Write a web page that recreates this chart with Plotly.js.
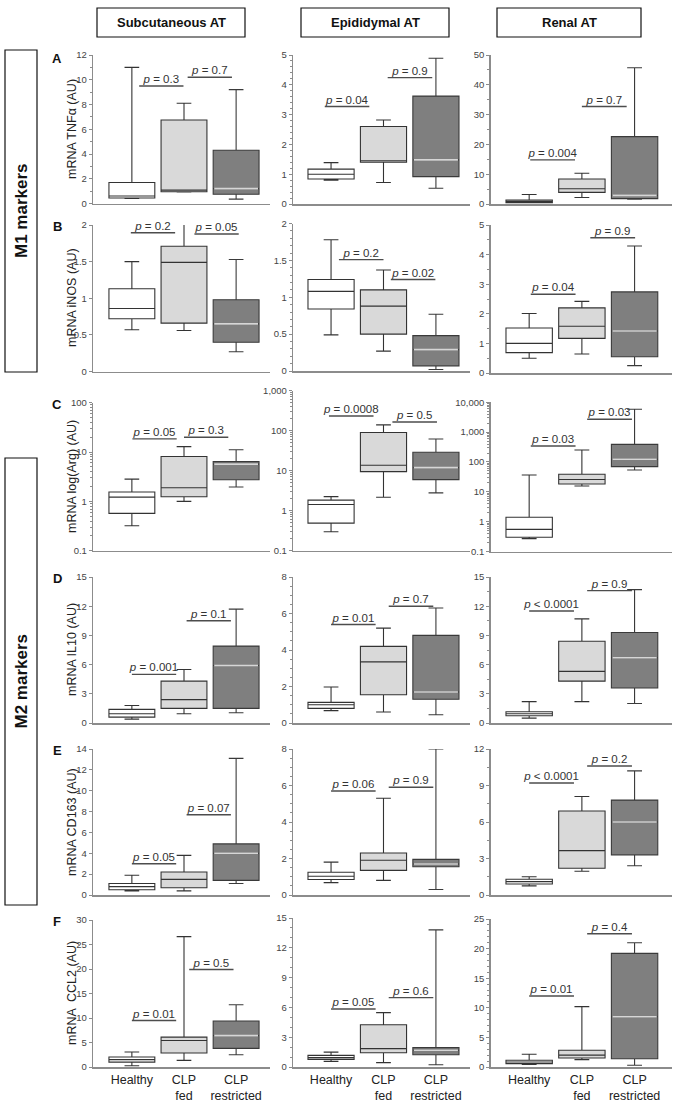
<!DOCTYPE html>
<html><head><meta charset="utf-8">
<script src="https://cdn.plot.ly/plotly-3.0.1.min.js"></script>
<style>html,body{margin:0;padding:0;background:#fff}#chart{width:685px;height:1111px}</style>
</head><body><div id="chart"></div>
<script>
const W = 685, H = 1111;
const groups = ['Healthy', 'CLP<br>fed', 'CLP<br>restricted'];
const tissues = ['Subcutaneous AT', 'Epididymal AT', 'Renal AT'];
const markerSets = ['M1 markers', 'M2 markers'];
const panelLetters = ['A', 'B', 'C', 'D', 'E', 'F'];
const yTitles = ['mRNA TNFα (AU)', 'mRNA iNOS (AU)', 'mRNA log(Arg) (AU)', 'mRNA IL10 (AU)', 'mRNA CD163 (AU)', 'mRNA  CCL2 (AU)'];
const logTickVals = [0.1, 1, 10, 100, 1000, 10000];
const logTickText = ['0.1', '1', '10', '100', '1,000', '10,000'];

// five-number summaries [min, q1, median, q3, max] for Healthy, CLP fed, CLP restricted
const tnfSub = [[0.4, 0.45, 0.6, 1.7, 11.0], [0.94, 0.95, 1.08, 6.75, 8.1], [0.35, 0.75, 1.2, 4.3, 9.2]];
const tnfEpi = [[0.8, 0.84, 1.0, 1.17, 1.39], [0.72, 1.4, 1.45, 2.6, 2.82], [0.53, 0.92, 1.48, 3.62, 4.89]];
const tnfRen = [[0.4, 0.45, 0.7, 1.3, 3.2], [2.2, 3.9, 5.1, 8.4, 10.3], [1.6, 1.8, 2.9, 22.6, 45.7]];
const inosSub = [[0.57, 0.72, 0.86, 1.13, 1.5], [0.56, 0.66, 1.49, 1.71, 2.02], [0.27, 0.4, 0.65, 0.98, 1.53]];
const inosEpi = [[0.49, 0.84, 1.08, 1.24, 1.78], [0.27, 0.5, 0.88, 1.1, 1.37], [0.02, 0.07, 0.29, 0.48, 0.77]];
const inosRen = [[0.5, 0.69, 1.0, 1.52, 2.01], [0.64, 1.17, 1.58, 2.2, 2.42], [0.25, 0.55, 1.42, 2.74, 4.29]];
const argSub = [[0.32, 0.57, 1.22, 1.55, 2.83], [1.0, 1.24, 1.89, 8.1, 12.9], [1.95, 2.74, 5.7, 6.4, 11.1]];
const argEpi = [[0.3, 0.49, 1.44, 1.85, 2.26], [2.17, 9.5, 13.7, 90, 140], [2.8, 6.0, 12, 29, 62]];
const argRen = [[0.27, 0.3, 0.55, 1.4, 36.7], [15.7, 18.3, 26, 38.6, 252], [54, 70, 123, 390, 5820]];
const il10Sub = [[0.4, 0.6, 0.95, 1.4, 1.8], [0.95, 1.5, 2.4, 4.3, 5.5], [1.05, 1.5, 5.9, 7.9, 11.7]];
const il10Epi = [[0.68, 0.8, 1.0, 1.13, 1.97], [0.6, 1.55, 3.35, 4.2, 5.2], [0.45, 1.3, 1.7, 4.8, 6.3]];
const il10Ren = [[0.5, 0.75, 0.95, 1.15, 2.2], [2.2, 4.3, 5.3, 8.4, 10.7], [2.0, 3.6, 6.7, 9.3, 13.7]];
const cd163Sub = [[0.4, 0.5, 0.8, 1.1, 1.9], [0.4, 0.7, 1.5, 2.2, 3.8], [1.1, 1.4, 4.0, 4.9, 13.1]];
const cd163Epi = [[0.68, 0.85, 1.03, 1.25, 1.8], [0.8, 1.35, 1.9, 2.3, 5.3], [0.3, 1.55, 1.7, 1.95, 8.0]];
const cd163Ren = [[0.75, 0.9, 1.1, 1.3, 1.5], [1.95, 2.2, 3.65, 6.9, 8.1], [2.4, 3.3, 6.0, 7.8, 10.2]];
const ccl2Sub = [[0.27, 1.0, 1.5, 2.03, 3.05], [1.36, 2.85, 5.4, 6.1, 26.6], [2.5, 3.8, 6.4, 9.4, 12.7]];
const ccl2Epi = [[0.57, 0.77, 0.94, 1.17, 1.5], [0.44, 1.44, 1.85, 4.26, 5.47], [0.23, 1.24, 1.68, 1.95, 13.8]];
const ccl2Ren = [[0.45, 0.57, 0.85, 1.13, 2.15], [1.24, 1.53, 2.0, 2.83, 10.2], [0.3, 1.4, 8.5, 19.2, 21.0]];

// p-values: [Healthy vs CLP fed, CLP fed vs CLP restricted]
const tnfSubP = ['= 0.3', '= 0.7'],   tnfEpiP = ['= 0.04', '= 0.9'],   tnfRenP = ['= 0.004', '= 0.7'];
const inosSubP = ['= 0.2', '= 0.05'], inosEpiP = ['= 0.2', '= 0.02'],  inosRenP = ['= 0.04', '= 0.9'];
const argSubP = ['= 0.05', '= 0.3'],  argEpiP = ['= 0.0008', '= 0.5'], argRenP = ['= 0.03', '= 0.03'];
const il10SubP = ['= 0.001', '= 0.1'], il10EpiP = ['= 0.01', '= 0.7'], il10RenP = ['< 0.0001', '= 0.9'];
const cd163SubP = ['= 0.05', '= 0.07'], cd163EpiP = ['= 0.06', '= 0.9'], cd163RenP = ['< 0.0001', '= 0.2'];
const ccl2SubP = ['= 0.01', '= 0.5'], ccl2EpiP = ['= 0.05', '= 0.6'], ccl2RenP = ['= 0.01', '= 0.4'];

const panels = [
  {s: tnfSub, p: tnfSubP}, {s: tnfEpi, p: tnfEpiP}, {s: tnfRen, p: tnfRenP},
  {s: inosSub, p: inosSubP}, {s: inosEpi, p: inosEpiP}, {s: inosRen, p: inosRenP},
  {s: argSub, p: argSubP}, {s: argEpi, p: argEpiP}, {s: argRen, p: argRenP},
  {s: il10Sub, p: il10SubP}, {s: il10Epi, p: il10EpiP}, {s: il10Ren, p: il10RenP},
  {s: cd163Sub, p: cd163SubP}, {s: cd163Epi, p: cd163EpiP}, {s: cd163Ren, p: cd163RenP},
  {s: ccl2Sub, p: ccl2SubP}, {s: ccl2Epi, p: ccl2EpiP}, {s: ccl2Ren, p: ccl2RenP}
];

// placement of the significance bars (bar height in data units, bar start on the category axis)
const barPlace = [
  {y: [9.5, 10.2], x: [0.14, 1.07]}, {y: [3.27, 4.24], x: [-0.12, 1.08]}, {y: [14.8, 32.7], x: [0.02, 1.0]},
  {y: [1.895, 1.877], x: [-0.02, 1.2]}, {y: [1.51, 1.24], x: [0.15, 1.14]}, {y: [2.66, 4.57], x: [0.03, 1.16]},
  {y: [18.5, 20], x: [0.01, 1.0]}, {y: [234, 165], x: [-0.04, 1.17]}, {y: [344, 2690], x: [0.03, 1.1]},
  {y: [5.0, 10.5], x: [0.0, 1.05]}, {y: [5.4, 6.4], x: [0.0, 1.1]}, {y: [11.5, 13.6], x: [0.0, 1.1]},
  {y: [3.0, 7.7], x: [0.0, 1.05]}, {y: [5.7, 5.9], x: [0.0, 1.1]}, {y: [9.2, 10.6], x: [0.0, 1.1]},
  {y: [9.5, 19.9], x: [0.0, 1.1]}, {y: [5.84, 6.98], x: [0.0, 1.1]}, {y: [12.0, 22.5], x: [0.0, 1.1]}
];

const colX = [[93.3, 270], [293.3, 470], [490.7, 672]];
const colXRange = [[-0.74, 2.65], [-0.72, 2.65], [-0.73, 2.71]];
const yCfg = [
  {dom: [55, 203.5], range: [0, 12], dtick: 2, minor: 1},
  {dom: [55, 204], range: [0, 5], dtick: 1, minor: 0.2},
  {dom: [55, 204], range: [0, 50], dtick: 10, minor: 5},
  {dom: [225, 371.5], range: [0, 2], dtick: 0.5},
  {dom: [223.5, 371], range: [0, 2], dtick: 0.5, minor: 0.1},
  {dom: [225, 373], range: [0, 5], dtick: 1, minor: 0.5},
  {dom: [402.7, 550.7], log: true, range: [-1, 2]},
  {dom: [390.7, 550.8], log: true, range: [-1, 3]},
  {dom: [402.3, 551.5], log: true, range: [-1, 4]},
  {dom: [577, 723], range: [0, 15], dtick: 3},
  {dom: [577, 723], range: [0, 8], dtick: 2, minor: 0.5},
  {dom: [577, 723], range: [0, 15], dtick: 3, minor: 1.5},
  {dom: [749, 895], range: [0, 14], dtick: 2},
  {dom: [749, 895], range: [0, 8], dtick: 2, minor: 0.5},
  {dom: [749, 895], range: [0, 12], dtick: 3, minor: 1.5},
  {dom: [920, 1067], range: [0, 30], dtick: 5},
  {dom: [918, 1067], range: [0, 15], dtick: 3, minor: 1},
  {dom: [919, 1067], range: [0, 25], dtick: 5, minor: 1}
];

const boxFill = ['#ffffff', '#d9d9d9', '#7f7f7f'];
const boxLine = ['#333333', '#333333', '#3a3a3a'];
const BW = 0.88, BARLEN = 0.85;
const axisGray = '#8c8c8c';
const tickFont = {family: 'Liberation Sans Narrow, Arial Narrow, Liberation Sans, Arial, sans-serif', size: 9.5, color: '#444'};

const data = [];
const layout = {
  width: W, height: H, margin: {l: 0, r: 0, t: 0, b: 0},
  paper_bgcolor: '#fff', plot_bgcolor: 'rgba(0,0,0,0)',
  showlegend: false, boxmode: 'overlay',
  font: {family: 'Liberation Sans, Arial, sans-serif', color: '#222'},
  annotations: [], shapes: []
};

panels.forEach((pn, k) => {
  const r = Math.floor(k / 3), c = k % 3, n = k + 1;
  const xa = 'x' + n, ya = 'y' + n;
  const cfg = yCfg[k];
  const xName = 'xaxis' + (n === 1 ? '' : n), yName = 'yaxis' + (n === 1 ? '' : n);
  layout[xName] = {
    domain: [colX[c][0] / W, colX[c][1] / W], range: colXRange[c], anchor: ya,
    showline: true, linecolor: axisGray, linewidth: 1.5, ticks: '', showgrid: false, zeroline: false,
    tickmode: 'array', tickvals: [0, 1, 2], ticktext: groups, showticklabels: r === 5,
    tickfont: {family: 'Liberation Sans, Arial, sans-serif', size: 12.5, color: '#222'}, fixedrange: true
  };
  const yax = {
    domain: [1 - cfg.dom[1] / H, 1 - cfg.dom[0] / H], range: cfg.range, anchor: xa,
    showline: true, linecolor: axisGray, linewidth: 1.5, ticks: 'outside', ticklen: 3, tickcolor: axisGray,
    tickwidth: 1, showgrid: false, zeroline: false, tickfont: tickFont, fixedrange: true
  };
  if (cfg.log) {
    yax.type = 'log';
    yax.tickmode = 'array';
    const lo = Math.pow(10, cfg.range[0]) * 0.999, hi = Math.pow(10, cfg.range[1]) * 1.001;
    const idx = logTickVals.map((v, i) => i).filter(i => logTickVals[i] >= lo && logTickVals[i] <= hi);
    yax.tickvals = idx.map(i => logTickVals[i]);
    yax.ticktext = idx.map(i => logTickText[i]);
    yax.minor = {ticks: 'outside', ticklen: 2, tickcolor: axisGray, dtick: 'D1', showgrid: false};
  } else {
    yax.tickmode = 'linear'; yax.tick0 = 0; yax.dtick = cfg.dtick;
    if (cfg.minor) yax.minor = {ticks: 'outside', ticklen: 2, tickcolor: axisGray, dtick: cfg.minor, tick0: 0, showgrid: false};
  }
  layout[yName] = yax;

  pn.s.forEach((st, g) => {
    data.push({
      type: 'box', xaxis: xa, yaxis: ya, x: [g],
      lowerfence: [st[0]], q1: [st[1]], median: [st[2]], q3: [st[3]], upperfence: [st[4]],
      width: BW, whiskerwidth: 0.32, boxpoints: false,
      fillcolor: boxFill[g], line: {color: boxLine[g], width: 1.1}, hoverinfo: 'skip'
    });
  });
  // light median line in the CLP restricted box
  const rs = pn.s[2];
  data.push({
    type: 'scatter', mode: 'lines', xaxis: xa, yaxis: ya,
    x: [2 - BW / 2 + 0.02, 2 + BW / 2 - 0.02], y: [rs[2], rs[2]],
    line: {color: '#d6d6d6', width: 1.6}, hoverinfo: 'skip'
  });
  // significance bars
  const bp = barPlace[k];
  pn.p.forEach((lab, j) => {
    data.push({
      type: 'scatter', mode: 'lines', xaxis: xa, yaxis: ya,
      x: [bp.x[j], bp.x[j] + BARLEN], y: [bp.y[j], bp.y[j]],
      line: {color: '#4d4d4d', width: 1.4}, hoverinfo: 'skip', cliponaxis: false
    });
    data.push({
      type: 'scatter', mode: 'text', xaxis: xa, yaxis: ya,
      x: [bp.x[j] + BARLEN / 2], y: [bp.y[j]], text: ['<i>p</i> ' + lab],
      textposition: 'top center', cliponaxis: false,
      textfont: {family: 'Liberation Sans, Arial, sans-serif', size: 11.5, color: '#333'}, hoverinfo: 'skip'
    });
  });
});

// column headers
const headerBoxes = [[97, 245], [301, 449], [497, 641]];
tissues.forEach((t, i) => {
  const b = headerBoxes[i];
  layout.shapes.push({type: 'rect', xref: 'paper', yref: 'paper',
    x0: b[0] / W, x1: b[1] / W, y0: 1 - 37 / H, y1: 1 - 8 / H, line: {color: '#111', width: 1.2}});
  layout.annotations.push({xref: 'paper', yref: 'paper', x: (b[0] + b[1]) / 2 / W, y: 1 - 22.5 / H,
    text: '<b>' + t + '</b>', showarrow: false, xanchor: 'center', yanchor: 'middle',
    font: {family: 'Liberation Sans, Arial, sans-serif', size: 13, color: '#111'}});
});

// marker group boxes
const markerBoxes = [[50, 372], [458, 905]];
markerSets.forEach((m, i) => {
  const b = markerBoxes[i];
  layout.shapes.push({type: 'rect', xref: 'paper', yref: 'paper',
    x0: 5 / W, x1: 37 / W, y0: 1 - b[1] / H, y1: 1 - b[0] / H, line: {color: '#111', width: 1.2}});
  layout.annotations.push({xref: 'paper', yref: 'paper', x: 21 / W, y: 1 - (b[0] + b[1]) / 2 / H,
    text: '<b>' + m + '</b>', showarrow: false, textangle: -90, xanchor: 'center', yanchor: 'middle',
    font: {family: 'Liberation Sans Narrow, Arial Narrow, Liberation Sans, Arial, sans-serif', size: 17, color: '#111'}});
});

// panel letters and y-axis titles
const letterY = [58, 226, 404, 578, 750, 921];
const titleY = [129, 298, 477, 650, 822, 993];
panelLetters.forEach((L, i) => {
  layout.annotations.push({xref: 'paper', yref: 'paper', x: 57 / W, y: 1 - letterY[i] / H,
    text: '<b>' + L + '</b>', showarrow: false, xanchor: 'center', yanchor: 'middle',
    font: {family: 'Liberation Sans, Arial, sans-serif', size: 13, color: '#111'}});
  layout.annotations.push({xref: 'paper', yref: 'paper', x: 72 / W, y: 1 - titleY[i] / H,
    text: yTitles[i], showarrow: false, textangle: -90, xanchor: 'center', yanchor: 'middle',
    font: {family: 'Liberation Sans, Arial, sans-serif', size: 12.5, color: '#222'}});
});

Plotly.newPlot('chart', data, layout, {staticPlot: true, displayModeBar: false});
</script>
</body></html>
